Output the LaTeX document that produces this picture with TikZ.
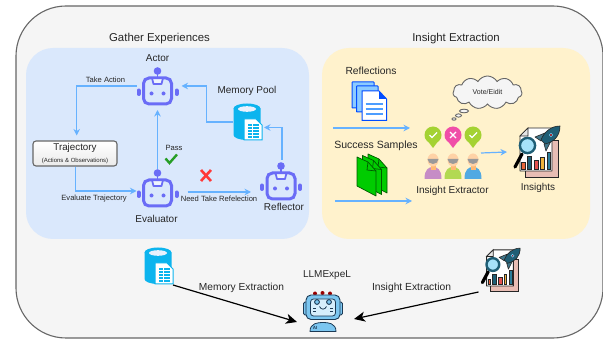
\documentclass[tikz,border=0pt]{standalone}
\usepackage{fontspec}
\setmainfont{Liberation Sans}
\usetikzlibrary{arrows.meta,shapes.symbols,shapes.geometric,calc}
\definecolor{bgc}{HTML}{F5F5F5}
\definecolor{edgec}{HTML}{666666}
\definecolor{panelb}{HTML}{DAE8FC}
\definecolor{panely}{HTML}{FFF2CC}
\definecolor{arr}{HTML}{66B2FF}
\definecolor{robo}{HTML}{6A6CF6}
\definecolor{cyl}{HTML}{0CB4EE}
\definecolor{txt}{HTML}{262626}
\definecolor{teal}{HTML}{1F5E75}
\definecolor{pingreen}{HTML}{A4D233}
\definecolor{pinpink}{HTML}{F04EA8}
\definecolor{llmhead}{HTML}{7CC6F0}
\definecolor{llmscreen}{HTML}{D6EEFC}
\definecolor{llmline}{HTML}{1C3A55}
\definecolor{pinkpage}{HTML}{E8BDB4}
\tikzset{
  x=1pt,y=-1pt,
  lbl/.style={inner sep=0pt,text=txt,font=\fontsize{#1}{#1}\selectfont},
  lbl/.default=10,
  iconbox/.style={inner sep=0pt,outer sep=0pt,draw=none,fill=none},
  flow/.style={draw=arr,line width=1.2pt,-{Stealth[length=6.5pt,width=6.5pt]}},
  feed/.style={draw=black,line width=1.2pt,-{Stealth[length=11pt,width=10pt,inset=3pt]}},
  robot/.pic={
    \draw[robo,line width=1.5pt] (0,-14) -- (0,-20);
    \fill[robo] (0,-20) circle (3.8);
    \draw[robo,line width=3pt,rounded corners=5.5pt] (-14,-13) rectangle (14,13);
    \draw[robo,line width=1.8pt,fill=white,fill opacity=.55,line join=round] (-5.5,-13) -- (5.5,-13) -- (4,-7) -- (-4,-7) -- cycle;
    \fill[robo] (-6,2.5) circle (2) (6,2.5) circle (2);
    \draw[robo,line width=4pt,line cap=round] (-19,-.5) -- (-19,3) (19,-.5) -- (19,3);
  },
  cylinderdoc/.pic={
    \fill[cyl] (-13.5,-13) -- (-13.5,13) arc[start angle=180,end angle=0,x radius=13.5,y radius=5] -- (13.5,-13) arc[start angle=0,end angle=-180,x radius=13.5,y radius=5] -- cycle;
    \fill[cyl] (0,-13.5) ellipse (13.5 and 5);
    \fill[panelb!60!white] (0,-13) ellipse (9 and 2.8);
    \draw[cyl,line width=1pt,fill=white] (-3,-3) -- (9,-3) -- (15,3) -- (15,18) -- (-3,18) -- cycle;
    \foreach \r in {3,6,9,12,15}{\fill[cyl] (1,\r-.8) rectangle (4.5,\r+.8);\fill[cyl] (5.5,\r-.8) rectangle (11.5,\r+.8);}
  },
  insightsicon/.pic={
    \draw[black!85,line width=.9pt,fill=pinkpage] (-11,-12) rectangle (22,25);
    \draw[black!85,line width=.9pt,fill=white,line join=round] (-8,-24) -- (16,-24) -- (16,19) -- (-16,19) -- (-16,-16) -- cycle;
    \draw[black!85,line width=.7pt,fill=black!10] (-8,-24) -- (-8,-16) -- (-16,-16) -- cycle;
    \foreach \a/\b/\t/\c in {-14.3/-11/10.7/E8663A,-8.7/-4.3/4.7/1F5E75,-1.7/2.3/8.7/E5524F,4.7/8/5.3/F0B23C,11.3/14.7/.3/2A7E9B}{
      \definecolor{barc}{HTML}{\c}
      \draw[black!85,line width=.7pt,fill=barc] (\a,17.3) rectangle (\b,\t);
    }
    \draw[black,line width=3.2pt,line cap=round] (-14,2) -- (-21,15);
    \draw[teal,line width=2.4pt,fill=cyan!35!white] (-8.5,-6.5) circle (7.6);
    \draw[black!85,line width=.6pt,fill=teal!85!white,line join=round] (9,-19) -- (-1,-15) -- (5,-11) -- cycle;
    \draw[black!85,line width=.6pt,fill=teal!85!white,line join=round] (15,-11) -- (10,-1) -- (8,-8) -- cycle;
    \draw[black!85,line width=.6pt,fill=teal,line join=round] (24,-26) .. controls (15,-26) and (8,-20) .. (5,-12) -- (9,-8) .. controls (18,-10) and (24,-16) .. (24,-26) -- cycle;
    \draw[cyan!60!white,line width=.6pt,fill=red!70!black] (15,-17) circle (1.7);
  },
  pin/.pic={
    \fill[pic actions] (-8.3,2) -- (0,13) -- (8.3,2) -- cycle;
    \fill[pic actions] (0,0) circle (8.5);
  },
  person/.pic={
    \fill[pic actions] (-8.5,24) .. controls (-8.5,14) and (-4,12) .. (0,12) .. controls (4,12) and (8.5,14) .. (8.5,24) -- cycle;
    \fill[orange!55!white] (-2.5,9) rectangle (2.5,15);
    \fill[orange!35!white] (0,5) ellipse (5.5 and 6.5);
    \fill[gray!80] (-5.5,4) arc[start angle=180,end angle=360,x radius=5.5,y radius=-5] -- cycle;
  },
}
\begin{document}
\begin{tikzpicture}
\useasboundingbox (0,0) rectangle (603,339);
% containers
\draw[edgec,line width=1.1pt,fill=bgc,rounded corners=50pt] (16,6) -- (16,338) -- (603,338) -- (603,6) -- cycle;
\fill[panelb,rounded corners=27pt] (26,48) rectangle (309,239);
\fill[panely,rounded corners=27pt] (322,48) rectangle (590,239);

% titles
\node[lbl=11.4] (t1) at (159.5,38.5) {Gather Experiences};
\node[lbl=11.4] (t2) at (456,39) {Insight Extraction};

% left panel icons
\node[iconbox,minimum width=42pt,minimum height=44pt] (actor) at (157.5,91) {};
\pic at (actor.center) {robot};
\node[iconbox,minimum width=42pt,minimum height=44pt] (evaluator) at (157.5,193) {};
\pic at (evaluator.center) {robot};
\node[iconbox,minimum width=42pt,minimum height=44pt] (reflector) at (281,186) {};
\pic at (reflector.center) {robot};
\node[iconbox,minimum width=30pt,minimum height=38pt] (pool) at (247,122) {};
\pic at (pool.center) {cylinderdoc};
\node[draw=edgec,line width=1.1pt,rounded corners=3pt,top color=white,bottom color=black!8,minimum width=84pt,minimum height=25pt,inner sep=0pt,align=center,text=txt] (traj) at (75,153.5) {{\fontsize{9.8}{11}\selectfont Trajectory}\\[-.5pt]{\fontsize{6}{7}\selectfont (Actions \& Observations)}};

\node[lbl=10] (actorl) at (157.5,58) {Actor};
\node[lbl=10] (pooll) at (247,90.5) {Memory Pool};
\node[lbl=10] (evall) at (156.5,218.5) {Evaluator};
\node[lbl=10] (refl) at (284,207) {Reflector};
\node[lbl=7.6] (takel) at (105.5,80) {Take Action};
\node[lbl=7.6] (passl) at (174,148) {Pass};
\node[lbl=7.6] (evtl) at (94,199) {Evaluate Trajectory};
\node[lbl=7.6] (needl) at (219,199) {Need Take Refelection};

% left panel connectors
\coordinate (e1) at ([xshift=9pt,yshift=1pt]evaluator.east);
\coordinate (e2) at ([xshift=-9pt]reflector.west |- e1);
\coordinate (p1) at (206.5,86);
\draw[flow] ([yshift=5pt]actor.west) -| ([xshift=1.7pt,yshift=5pt]traj.north);
\draw[flow] ([xshift=.5pt]traj.south) |- ([yshift=2pt]evaluator.west);
\draw[flow] ([yshift=2pt]evaluator.north) -- ([yshift=3pt]actor.south);
\draw[flow] (e1) -- (e2);
\draw[flow] ([yshift=4pt,xshift=1pt]reflector.north) |- ([xshift=2pt,yshift=-5.5pt]pool.east);
\draw[flow] ([xshift=1pt]pool.west) -| (p1) -- ([xshift=3pt,yshift=5pt]actor.east);

% pass / fail marks
\draw[green!55!black!85!white,line width=2.4pt] (165.5,158.5) -- (169.5,163) -- (177,154.5);
\draw[red!70!pink,line width=2.6pt] (201,170) -- (211,181) (211,170) -- (201,181);

% right panel
\node[lbl=10.3] (reflt) at (371,70.5) {Reflections};
\node[lbl=10.5] (succ) at (376,145.5) {Success Samples};
\node[lbl=10] (extl) at (452.5,190.5) {Insight Extractor};
\node[lbl=10] (insl) at (538,187.5) {Insights};

% reflections documents
\node[iconbox,minimum width=36pt,minimum height=40pt] (refdocs) at (369,101) {};
\draw[blue!70!cyan,line width=1pt,fill=blue!45!cyan!45!white,rounded corners=.5pt] (352,82) rectangle (374,108);
\draw[blue!70!cyan,line width=1pt,fill=blue!45!cyan!45!white,rounded corners=.5pt] (356.5,86) rectangle (378,112);
\draw[blue!70!cyan,line width=1pt,fill=white] (362,91) -- (379,91) -- (386.5,99) -- (386.5,120.5) -- (362,120.5) -- cycle;
\fill[blue!70!cyan] (379,91) -- (386.5,99) -- (379,99) -- cycle;
\foreach \r in {104,109,114}{\draw[blue!55!cyan!70!white,line width=1.1pt] (365.5,\r) -- (383,\r);}

% success documents
\node[iconbox,minimum width=30pt,minimum height=43pt] (sucdocs) at (372,175) {};
\foreach \dx/\dy in {11/-3,5.5/-1.5,0/0}{
  \draw[green!35!black,line width=.7pt,fill=green!80!black,line join=round,shift={(\dx,\dy)}]
    (357,157) -- (368,162) -- (376,171) -- (376,196) -- (357,186) -- cycle;
  \draw[green!35!black,line width=.7pt,shift={(\dx,\dy)}] (368,162) -- (367,170) -- (376,171);
}

\coordinate (in1a) at (333,128); \coordinate (in1b) at (410,128);
\coordinate (in2a) at (335,201); \coordinate (in2b) at (412,201);
\draw[flow] (in1a) -- (in1b);
\draw[flow] (in2a) -- (in2b);

% thought cloud
\node[cloud,cloud puffs=11,cloud puff arc=120,aspect=2.3,draw=edgec,line width=.9pt,fill=bgc,minimum width=69pt,minimum height=33pt,inner sep=0pt,text=txt,font=\fontsize{7}{8}\selectfont] (cloudn) at (487.5,92.5) {Vote/Eidit};
\draw[edgec,line width=.9pt,fill=bgc] (464,111) ellipse (4.5 and 1.8);
\draw[edgec,line width=.9pt,fill=bgc] (458.5,115.5) ellipse (3 and 1.6);
\draw[edgec,line width=.9pt,fill=bgc] (454,119) ellipse (2 and 1.2);

% pins
\node[iconbox,minimum width=58pt,minimum height=22pt] (pins) at (453,137) {};
\pic[fill=pingreen] at (433,135) {pin};
\pic[fill=pinpink] at (453,135) {pin};
\pic[fill=pingreen] at (473,135) {pin};
\draw[white,line width=1.2pt] (429.5,135) -- (432,137.5) -- (437,132.5);
\draw[white,line width=1.2pt] (469.5,135) -- (472,137.5) -- (477,132.5);
\draw[white,line width=1.2pt] (450,132) -- (456,138) (456,132) -- (450,138);

% people
\node[iconbox,minimum width=58pt,minimum height=24pt] (people) at (453,167) {};
\pic[fill=violet!45!white] at (433,155) {person};
\pic[fill=pingreen!85!white] at (453,155) {person};
\pic[fill=cyan!75!blue!70!white] at (473,155) {person};

% insights
\node[iconbox,minimum width=50pt,minimum height=52pt] (insights) at (536,152) {};
\pic at (insights.center) {insightsicon};
\draw[flow] (481,153) -- ([xshift=-4pt]insights.west);

% bottom row
\node[iconbox,minimum width=30pt,minimum height=38pt] (pool2) at (158,266) {};
\pic at (pool2.center) {cylinderdoc};
\node[iconbox,minimum width=41pt,minimum height=44pt] (insights2) at (500,270) {};
\pic[scale=.84] at (insights2.center) {insightsicon};

\node[iconbox,minimum width=40pt,minimum height=40pt] (llm) at (323,312) {};
\draw[llmline,line width=.8pt,fill=llmhead,rounded corners=1.5pt] (303.5,302) rectangle (308,315);
\draw[llmline,line width=.8pt,fill=llmhead,rounded corners=1.5pt] (338,302) rectangle (342.5,315);
\fill[red!60!black] (315,293.5) circle (2) (322.5,293) circle (2) (330,293.5) circle (2);
\draw[llmline,line width=.9pt,fill=llmhead,rounded corners=5pt] (306,295) rectangle (340,319.5);
\draw[llmline,line width=.8pt,fill=llmscreen,rounded corners=3pt] (310.5,299) rectangle (335.5,316);
\draw[llmline,line width=.9pt,fill=llmhead] (317,302) circle (2.4) (329,302) circle (2.4);
\draw[llmline,line width=.8pt] (319.5,306.5) .. controls (321,310) and (325,310) .. (326.5,306.5);
\draw[llmline,line width=.6pt] (313,308) -- (316,308) (313,311) -- (316,311) (330,308) -- (333,308) (330,311) -- (333,311);
\draw[llmline,line width=.8pt,fill=llmhead] (310,331.5) .. controls (310,323) and (318,322.5) .. (323,322.5) .. controls (328,322.5) and (336,323) .. (336,331.5) -- cycle;
\node[inner sep=0pt,font=\fontsize{4.5}{5}\bfseries\selectfont,text=llmline] (ailbl) at (315,328) {AI};

\node[lbl=10] (llml) at (327,275.5) {LLMExpeL};
\node[lbl=10.2] (memex) at (241.5,288) {Memory Extraction};
\node[lbl=10.3] (insex) at (411.5,288) {Insight Extraction};

\draw[feed] (pool2.south east) -- ([xshift=-6pt,yshift=-10pt]llm.west);
\draw[feed] ([xshift=-1pt]insights2.south west) -- ([xshift=11pt,yshift=-7pt]llm.east);
\end{tikzpicture}
\end{document}
